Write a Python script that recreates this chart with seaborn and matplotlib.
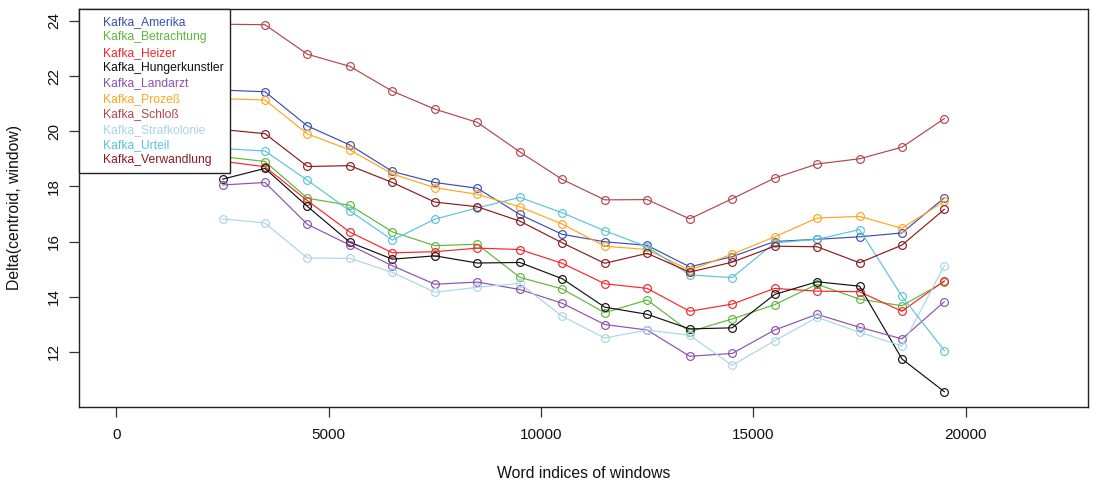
import numpy as np
import pandas as pd
import matplotlib
matplotlib.use("Agg")
import matplotlib.pyplot as plt
from matplotlib.lines import Line2D
import seaborn as sns

# Window positions (word index of each window's centre)
window_pos = [2500, 3500, 4500, 5500, 6500, 7500, 8500, 9500, 10500,
              11500, 12500, 13500, 14500, 15500, 16500, 17500, 18500, 19500]

texts = ["Kafka_Amerika", "Kafka_Betrachtung", "Kafka_Heizer",
         "Kafka_Hungerkunstler", "Kafka_Landarzt", "Kafka_Prozeß",
         "Kafka_Schloß", "Kafka_Strafkolonie", "Kafka_Urteil",
         "Kafka_Verwandlung"]

colors = ["#3B4FB3", "#5CB93C", "#F8262C", "#111111", "#8D50AE",
          "#FFA51F", "#B4464A", "#A9D6E8", "#59C4DA", "#8C1A1C"]

amerika = [21.49, 21.43, 20.19, 19.50, 18.54, 18.14, 17.93, 16.98, 16.26,
           15.99, 15.86, 15.08, 15.45, 16.00, 16.08, 16.17, 16.31, 17.59]
betrachtung = [19.08, 18.90, 17.57, 17.31, 16.35, 15.85, 15.90, 14.70, 14.28,
               13.42, 13.88, 12.73, 13.19, 13.71, 14.45, 13.91, 13.67, 14.54]
heizer = [18.91, 18.71, 17.48, 16.34, 15.59, 15.63, 15.76, 15.71, 15.21,
          14.47, 14.30, 13.47, 13.73, 14.30, 14.20, 14.18, 13.47, 14.58]
hungerkunstler = [18.26, 18.65, 17.27, 15.97, 15.36, 15.48, 15.22, 15.24, 14.65,
                  13.62, 13.36, 12.83, 12.87, 14.08, 14.54, 14.38, 11.74, 10.55]
landarzt = [18.05, 18.14, 16.62, 15.87, 15.12, 14.45, 14.53, 14.26, 13.76,
            12.99, 12.79, 11.84, 11.94, 12.79, 13.36, 12.89, 12.47, 13.82]
prozess = [21.18, 21.13, 19.90, 19.32, 18.45, 17.95, 17.71, 17.26, 16.63,
           15.83, 15.71, 14.96, 15.54, 16.17, 16.85, 16.91, 16.48, 17.46]
schloss = [23.88, 23.86, 22.79, 22.35, 21.45, 20.80, 20.32, 19.25, 18.25,
           17.51, 17.52, 16.82, 17.55, 18.30, 18.81, 19.00, 19.42, 20.46]
strafkolonie = [16.82, 16.67, 15.40, 15.39, 14.88, 14.16, 14.34, 14.48, 13.29,
                12.50, 12.79, 12.60, 11.51, 12.40, 13.25, 12.71, 12.21, 15.13]
urteil = [19.37, 19.28, 18.22, 17.11, 16.05, 16.81, 17.22, 17.60, 17.04,
          16.39, 15.81, 14.79, 14.69, 15.95, 16.08, 16.43, 14.01, 12.04]
verwandlung = [20.06, 19.91, 18.72, 18.75, 18.14, 17.43, 17.26, 16.74, 15.95,
               15.21, 15.57, 14.89, 15.25, 15.83, 15.81, 15.23, 15.87, 17.17]

series = [amerika, betrachtung, heizer, hungerkunstler, landarzt,
          prozess, schloss, strafkolonie, urteil, verwandlung]

x_ticks = [0, 5000, 10000, 15000, 20000]
y_ticks = [12, 14, 16, 18, 20, 22, 24]

df = pd.concat(
    [pd.DataFrame({"window": window_pos, "delta": vals, "text": name})
     for name, vals in zip(texts, series)],
    ignore_index=True,
)

sns.set_theme(style="white")
plt.rcParams["font.family"] = ["Liberation Sans", "DejaVu Sans"]

fig = plt.figure(figsize=(10.93, 4.83), dpi=100)
ax = fig.add_axes([79 / 1093, 1 - 406.7 / 483, (1088 - 79) / 1093, (406.7 - 9.3) / 483])

palette = dict(zip(texts, colors))
sns.lineplot(data=df, x="window", y="delta", hue="text", hue_order=texts,
             palette=palette, marker="o", markersize=5.6, linewidth=0.85,
             legend=False, ax=ax)

# open circles in the series colour
for line in ax.lines:
    c = line.get_color()
    line.set_markerfacecolor("none")
    line.set_markeredgecolor(c)
    line.set_markeredgewidth(0.85)

ax.set_xlim(-880, 22880)
ax.set_ylim(10.01, 24.42)
ax.set_xticks(x_ticks)
ax.set_xticklabels([str(t) for t in x_ticks])
ax.set_yticks(y_ticks)
ax.set_yticklabels([str(t) for t in y_ticks], rotation=90, va="center")

ax.tick_params(axis="both", which="major", direction="out", length=7,
               width=0.9, color="#333333", labelsize=11, labelcolor="#111111",
               bottom=True, left=True)
ax.tick_params(axis="x", pad=8)
ax.tick_params(axis="y", pad=6)

for sp in ax.spines.values():
    sp.set_visible(True)
    sp.set_color("#222222")
    sp.set_linewidth(1.0)

ax.set_xlabel("Word indices of windows", fontsize=11.3, color="#111111")
ax.set_ylabel("Delta(centroid, window)", fontsize=11.3, color="#111111")
ax.xaxis.set_label_coords(0.5, -0.148)
ax.yaxis.set_label_coords(-0.056, 0.5)
ax.grid(False)

handles = [Line2D([], [], linestyle="none", marker=None) for _ in texts]
leg = ax.legend(handles, texts, loc="upper left", bbox_to_anchor=(0, 1),
                borderaxespad=0, frameon=True, fancybox=False,
                edgecolor="#222222", framealpha=1, fontsize=8.7,
                labelcolor=colors, handlelength=1.0, handletextpad=0.4,
                borderpad=0.55, labelspacing=0.28)
leg.get_frame().set_linewidth(1.0)

fig.savefig("out.png", dpi=100, facecolor="white")
